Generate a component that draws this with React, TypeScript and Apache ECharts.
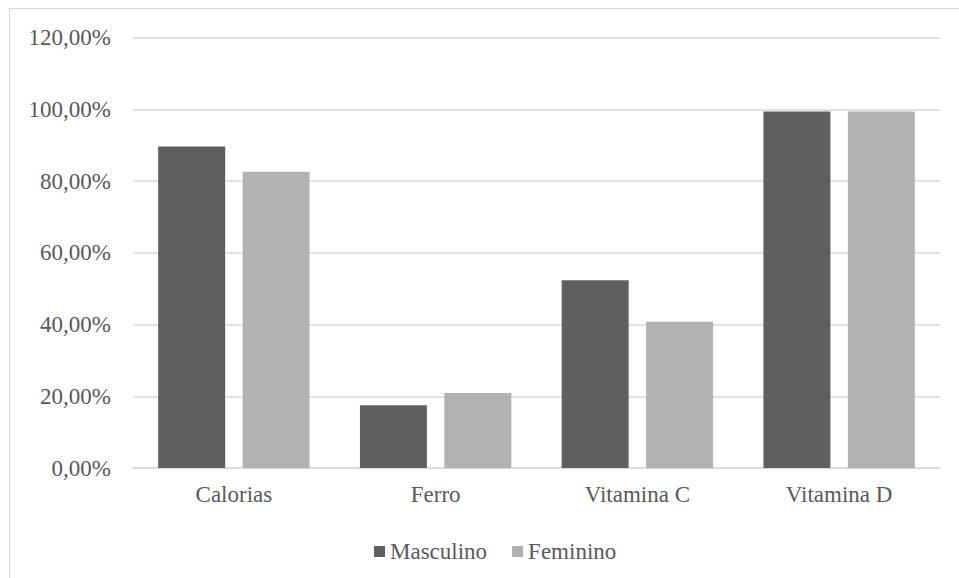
import React, { useEffect, useRef } from "react";
import * as echarts from "echarts";

const categories = ["Calorias", "Ferro", "Vitamina C", "Vitamina D"];
const masculino = [89.6, 17.5, 52.3, 99.4];
const feminino = [82.6, 20.9, 40.8, 99.4];
const seriesNames = ["Masculino", "Feminino"];

export default function App() {
  const ref = useRef<HTMLDivElement>(null);
  useEffect(() => {
    if (!ref.current) return;
    const chart = echarts.init(ref.current, null, { renderer: "svg" });
    const font = "Liberation Serif";
    chart.setOption({
      animation: false,
      backgroundColor: "#ffffff",
      graphic: [
        {
          type: "rect",
          shape: { x: 9.5, y: 8.5, width: 1000, height: 700 },
          style: { fill: "none", stroke: "#d9d9d9", lineWidth: 1 },
          silent: true,
          z: -1,
        },
      ],
      grid: { left: 133, right: 19, top: 37.5, bottom: 110, containLabel: false },
      legend: {
        data: seriesNames,
        left: 369,
        top: 535,
        icon: "rect",
        itemWidth: 11,
        itemHeight: 11,
        itemGap: 25,
        textStyle: { fontFamily: font, fontSize: 23, color: "#595959" },
      },
      xAxis: {
        type: "category",
        data: categories,
        axisLine: { show: true, lineStyle: { color: "#d9d9d9", width: 1.5 } },
        axisTick: { show: false },
        axisLabel: { margin: 15, fontFamily: font, fontSize: 23, color: "#595959" },
      },
      yAxis: {
        type: "value",
        min: 0,
        max: 120,
        interval: 20,
        axisLine: { show: false },
        axisTick: { show: false },
        splitLine: { lineStyle: { color: "#d9d9d9", width: 1.5 } },
        axisLabel: {
          margin: 22,
          fontFamily: font,
          fontSize: 23,
          color: "#595959",
          formatter: (v: number) => v.toFixed(2).replace(".", ",") + "%",
        },
      },
      series: [
        {
          name: seriesNames[0],
          type: "bar",
          data: masculino,
          barWidth: 67,
          barGap: "26%",
          itemStyle: { color: "#5f5f5f" },
        },
        {
          name: seriesNames[1],
          type: "bar",
          data: feminino,
          barWidth: 67,
          barGap: "26%",
          itemStyle: { color: "#b2b2b2" },
        },
      ],
    });
    return () => chart.dispose();
  }, []);
  return (
    <div
      ref={ref}
      style={{ position: "absolute", left: 0, top: 0, width: 959, height: 578 }}
    />
  );
}
